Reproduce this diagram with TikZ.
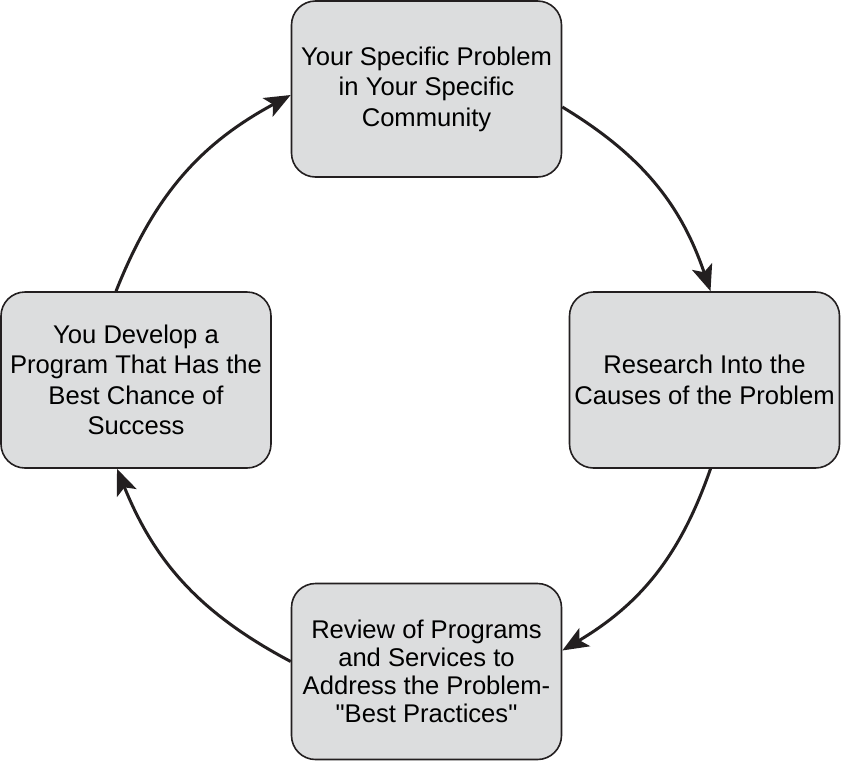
\documentclass[tikz,border=0pt]{standalone}
\usepackage{fontspec}
\setmainfont{Liberation Sans}
\usetikzlibrary{arrows.meta}

\begin{document}
\begin{tikzpicture}[x=1pt, y=-1pt,
    stageBox/.style={draw=borderColour, fill=fillColour, line width=1.6pt, rounded corners=24pt,
      minimum width=270pt, minimum height=176pt, inner sep=0pt, align=center,
      font=\fontsize{25.6}{30.5}\selectfont},
    cycleArrow/.style={draw=borderColour, line width=3pt, bend left=20,
      -{Stealth[length=26pt, width=21pt, inset=6pt]}}]
    % Define colours
    \definecolor{borderColour}{HTML}{231F20}
    \definecolor{fillColour}{HTML}{DCDDDE}

    % Fix the page to the size of the reference
    \useasboundingbox (0,0) rectangle (841,761);

  % The four stages of the cycle
  \node[stageBox] (problem) at (426.5,89) {Your Specific Problem\\in Your Specific\\Community};
  \node[stageBox] (research) at (704.5,380) {Research Into the\\Causes of the Problem};
  \node[stageBox, font=\fontsize{25.6}{27.8}\selectfont] (review) at (426.5,671.5) {Review of Programs\\and Services to\\Address the Problem-\\\textquotedbl Best Practices\textquotedbl};
  \node[stageBox] (develop) at (136,380) {You Develop a\\Program That Has the\\Best Chance of\\Success};

  % Arrows going round clockwise
  \draw[cycleArrow] ([yshift=-18pt]problem.east) to ([xshift=6pt]research.north);
  \draw[cycleArrow] ([xshift=6pt]research.south) to ([yshift=21pt]review.east);
  \draw[cycleArrow] ([yshift=10pt]review.west) to ([xshift=-19pt]develop.south);
  \draw[cycleArrow] ([xshift=-20pt]develop.north) to ([yshift=-6pt]problem.west);

\end{tikzpicture}
\end{document}
